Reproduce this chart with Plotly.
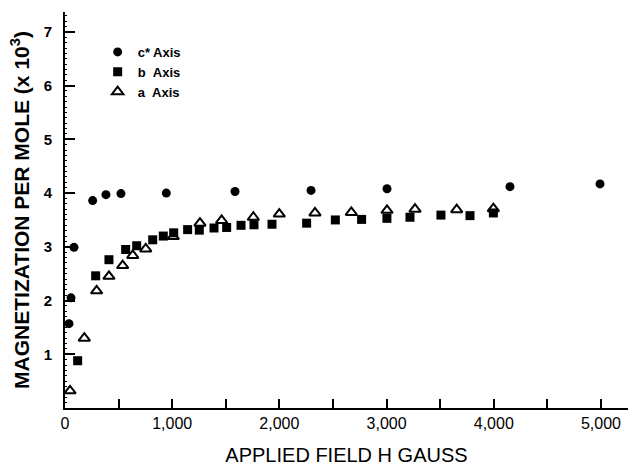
import plotly.graph_objects as go

# c* Axis (filled circles)
c_field = [37, 56, 84, 258, 382, 522, 945, 1586, 2295, 3004, 4151, 4991]
c_mag = [1.57, 2.05, 2.99, 3.86, 3.97, 3.99, 4.00, 4.03, 4.05, 4.08, 4.12, 4.17]

# b Axis (filled squares)
b_field = [118, 286, 410, 566, 669, 818, 917, 1014, 1144, 1253, 1390, 1508, 1642,
           1763, 1931, 2254, 2522, 2767, 3003, 3218, 3507, 3778, 3996]
b_mag = [0.88, 2.46, 2.76, 2.95, 3.02, 3.13, 3.20, 3.26, 3.32, 3.31, 3.35, 3.36, 3.40,
         3.41, 3.42, 3.44, 3.50, 3.51, 3.53, 3.55, 3.59, 3.58, 3.63]

# a Axis (open triangles)
a_field = [47, 180, 295, 410, 538, 632, 753, 1010, 1259, 1461, 1757, 1999, 2332,
           2671, 3004, 3265, 3654, 3996]
a_mag = [0.32, 1.30, 2.18, 2.45, 2.65, 2.84, 2.96, 3.19, 3.44, 3.49, 3.55, 3.61, 3.63,
         3.64, 3.68, 3.70, 3.69, 3.71]

x_ticks = [0, 1000, 2000, 3000, 4000, 5000]
y_ticks = [1, 2, 3, 4, 5, 6, 7]

fig = go.Figure()
fig.add_trace(go.Scatter(x=c_field, y=c_mag, mode="markers", name="c* Axis",
                         marker=dict(symbol="circle", size=9, color="black")))
fig.add_trace(go.Scatter(x=b_field, y=b_mag, mode="markers", name="b\u00a0\u00a0Axis",
                         marker=dict(symbol="square", size=9, color="black")))
fig.add_trace(go.Scatter(x=a_field, y=a_mag, mode="markers", name="a\u00a0\u00a0Axis",
                         marker=dict(symbol="triangle-up-open", size=10, color="black",
                                     line=dict(width=2, color="black"))))

fig.update_layout(
    width=628, height=466,
    margin=dict(l=65, r=0, t=12, b=58),
    paper_bgcolor="white", plot_bgcolor="white",
    font=dict(family="Liberation Sans, Arial, sans-serif", color="black"),
    showlegend=True,
    legend=dict(x=0.058, y=0.937, xanchor="left", yanchor="top",
                bgcolor="rgba(0,0,0,0)", font=dict(size=13, weight="bold"),
                itemwidth=30, tracegroupgap=0),
    xaxis=dict(
        range=[0, 5252], showgrid=False, zeroline=False,
        showline=True, linecolor="black", linewidth=2,
        tickvals=x_ticks, tickformat=",", ticks="inside", ticklen=9, tickwidth=1.5,
        tickcolor="black", tickfont=dict(size=16),
        minor=dict(dtick=500, ticks="inside", ticklen=9, tickwidth=1.5, tickcolor="black"),
        title=dict(text="APPLIED FIELD H GAUSS", font=dict(size=20), standoff=18),
    ),
    yaxis=dict(
        range=[0, 7.37], showgrid=False, zeroline=False,
        showline=True, linecolor="black", linewidth=2,
        tickvals=y_ticks, ticks="inside", ticklen=10, tickwidth=2, tickcolor="black",
        tickfont=dict(size=15, weight="bold"), ticklabelstandoff=8,
        minor=dict(dtick=0.1, ticks="inside", ticklen=2, tickwidth=1, tickcolor="black"),
        title=dict(text="MAGNETIZATION PER MOLE (x 10<sup>3</sup>)",
                   font=dict(size=21, weight="bold"), standoff=8),
    ),
)

fig.write_html("out.html")
